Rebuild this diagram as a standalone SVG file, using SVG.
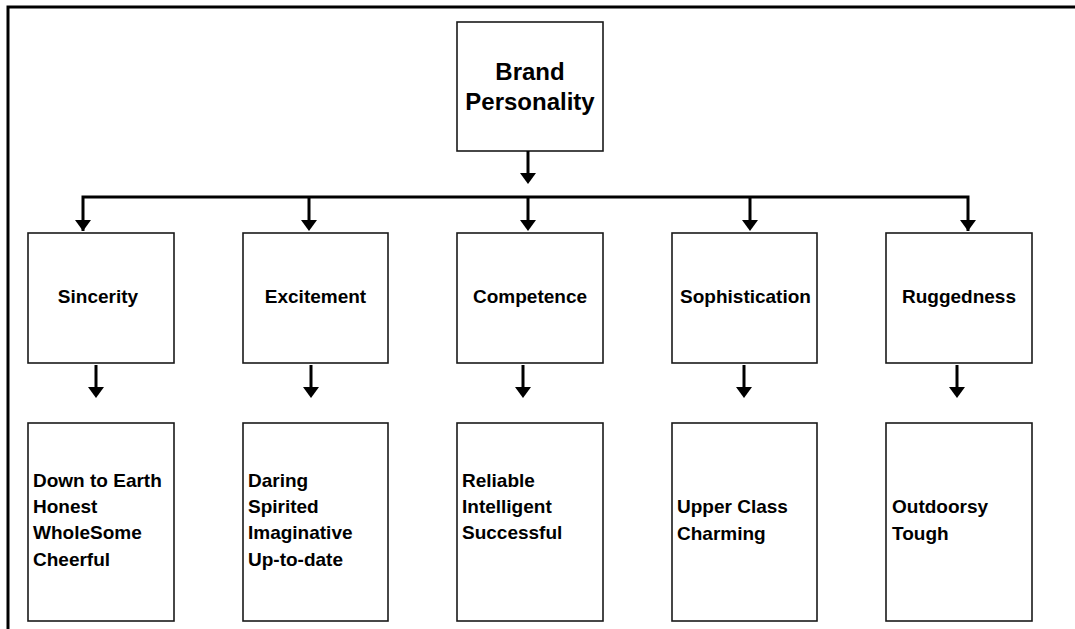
<svg xmlns="http://www.w3.org/2000/svg" xmlns:xlink="http://www.w3.org/1999/xlink" width="1075" height="629" viewBox="0 0 1075 629">
  <style>
    .box { fill: #ffffff; stroke: #1a1a1a; stroke-width: 1.6; }
    .lbl { font-family: "Liberation Sans", Arial, sans-serif; font-weight: bold; font-size: 19px; fill: #000; }
    .mid { text-anchor: middle; }
    .title { font-size: 24px; }
    .wire { fill: none; stroke: #000; stroke-width: 3; }
    .frame { fill: none; stroke: #000; stroke-width: 3; }
  </style>
  <defs>
    <!-- downward arrowhead, tip at origin -->
    <path id="ah" d="M-8,-11 L8,-11 L0,0 Z" fill="#000"/>
  </defs>

  <rect x="0" y="0" width="1075" height="629" fill="#ffffff"/>

  <!-- outer frame (top and left edges) -->
  <path class="frame" d="M8,629 L8,7 L1075,7"/>

  <!-- root -->
  <g id="brand-personality">
    <rect class="box" x="457" y="22" width="146" height="129"/>
    <text class="lbl mid title" x="530" y="80">Brand</text>
    <text class="lbl mid title" x="530" y="110">Personality</text>
  </g>

  <!-- dimensions -->
  <g id="sincerity">
    <rect class="box" x="28" y="233" width="146" height="130"/>
    <text class="lbl mid" x="98" y="303">Sincerity</text>
  </g>
  <g id="excitement">
    <rect class="box" x="243" y="233" width="145" height="130"/>
    <text class="lbl mid" x="315.5" y="303">Excitement</text>
  </g>
  <g id="competence">
    <rect class="box" x="457" y="233" width="146" height="130"/>
    <text class="lbl mid" x="530" y="303">Competence</text>
  </g>
  <g id="sophistication">
    <rect class="box" x="672" y="233" width="145" height="130"/>
    <text class="lbl mid" x="745.5" y="303">Sophistication</text>
  </g>
  <g id="ruggedness">
    <rect class="box" x="886" y="233" width="146" height="130"/>
    <text class="lbl mid" x="959" y="303">Ruggedness</text>
  </g>

  <!-- traits -->
  <g id="sincerity-traits">
    <rect class="box" x="28" y="423" width="146" height="198"/>
    <text class="lbl" x="33" y="487">Down to Earth</text>
    <text class="lbl" x="33" y="513">Honest</text>
    <text class="lbl" x="33" y="539">WholeSome</text>
    <text class="lbl" x="33" y="566">Cheerful</text>
  </g>
  <g id="excitement-traits">
    <rect class="box" x="243" y="423" width="145" height="198"/>
    <text class="lbl" x="248" y="487">Daring</text>
    <text class="lbl" x="248" y="513">Spirited</text>
    <text class="lbl" x="248" y="539">Imaginative</text>
    <text class="lbl" x="248" y="566">Up-to-date</text>
  </g>
  <g id="competence-traits">
    <rect class="box" x="457" y="423" width="146" height="198"/>
    <text class="lbl" x="462" y="487">Reliable</text>
    <text class="lbl" x="462" y="513">Intelligent</text>
    <text class="lbl" x="462" y="539">Successful</text>
  </g>
  <g id="sophistication-traits">
    <rect class="box" x="672" y="423" width="145" height="198"/>
    <text class="lbl" x="677" y="513">Upper Class</text>
    <text class="lbl" x="677" y="540">Charming</text>
  </g>
  <g id="ruggedness-traits">
    <rect class="box" x="886" y="423" width="146" height="198"/>
    <text class="lbl" x="892" y="513">Outdoorsy</text>
    <text class="lbl" x="892" y="540">Tough</text>
  </g>

  <!-- connectors -->
  <g id="connectors">
    <path class="wire" d="M528,151 L528,175"/>
    <use xlink:href="#ah" x="528" y="184"/>
    <path class="wire" d="M83,231 L83,197 L968,197 L968,231"/>
    <path class="wire" d="M309,197 L309,222"/>
    <path class="wire" d="M528,197 L528,222"/>
    <path class="wire" d="M750,197 L750,222"/>
    <use xlink:href="#ah" x="83" y="231"/>
    <use xlink:href="#ah" x="309" y="231"/>
    <use xlink:href="#ah" x="528" y="231"/>
    <use xlink:href="#ah" x="750" y="231"/>
    <use xlink:href="#ah" x="968" y="231"/>

    <path class="wire" d="M96,365 L96,389"/>
    <path class="wire" d="M311,365 L311,389"/>
    <path class="wire" d="M523,365 L523,389"/>
    <path class="wire" d="M744,365 L744,389"/>
    <path class="wire" d="M957,365 L957,389"/>
    <use xlink:href="#ah" x="96" y="398"/>
    <use xlink:href="#ah" x="311" y="398"/>
    <use xlink:href="#ah" x="523" y="398"/>
    <use xlink:href="#ah" x="744" y="398"/>
    <use xlink:href="#ah" x="957" y="398"/>
  </g>
</svg>
